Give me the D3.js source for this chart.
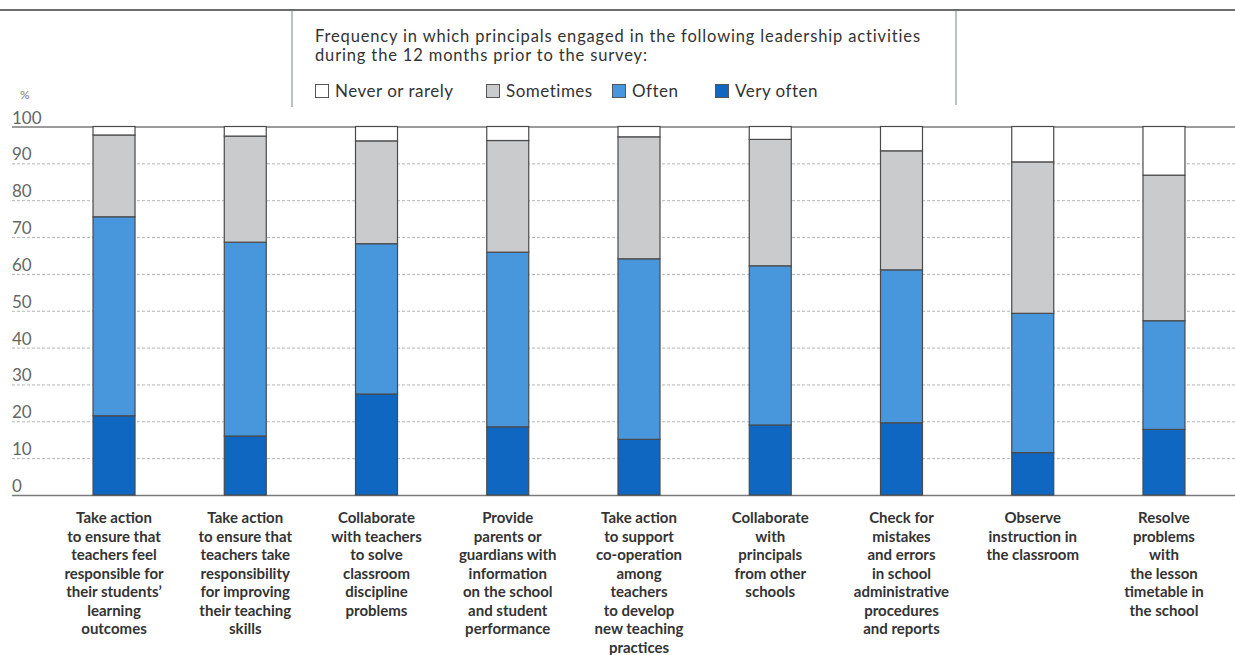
<!DOCTYPE html>
<html>
<head>
<meta charset="utf-8">
<script src="https://cdn.jsdelivr.net/npm/d3@7"></script>
<style>
  html, body { margin: 0; padding: 0; background: #fff; }
  svg { display: block; }
  text { font-family: Lato, "Open Sans", sans-serif; }
</style>
</head>
<body>
<svg id="chart" width="1235" height="655"></svg>
<script>
// ---- Data ----
const categories = [
  ["Take action", "to ensure that", "teachers feel", "responsible for", "their students\u2019", "learning", "outcomes"],
  ["Take action", "to ensure that", "teachers take", "responsibility", "for improving", "their teaching", "skills"],
  ["Collaborate", "with teachers", "to solve", "classroom", "discipline", "problems"],
  ["Provide", "parents or", "guardians with", "information", "on the school", "and student", "performance"],
  ["Take action", "to support", "co-operation", "among", "teachers", "to develop", "new teaching", "practices"],
  ["Collaborate", "with", "principals", "from other", "schools"],
  ["Check for", "mistakes", "and errors", "in school", "administrative", "procedures", "and reports"],
  ["Observe", "instruction in", "the classroom"],
  ["Resolve", "problems", "with", "the lesson", "timetable in", "the school"]
];
const seriesNames = ["Very often", "Often", "Sometimes", "Never or rarely"];
const veryOften = [21.5, 16.0, 27.4, 18.5, 15.1, 19.0, 19.6, 11.5, 17.8];
const often     = [54.0, 52.6, 40.8, 47.4, 49.0, 43.2, 41.5, 37.8, 29.5];
const sometimes = [22.2, 28.8, 27.9, 30.3, 33.1, 34.3, 32.3, 41.1, 39.5];
const never     = [2.3, 2.6, 3.9, 3.8, 2.8, 3.5, 6.6, 9.6, 13.2];
const yTicks = [0, 10, 20, 30, 40, 50, 60, 70, 80, 90, 100];
const legendTitle = ["Frequency in which principals engaged in the following leadership activities",
                     "during the 12 months prior to the survey:"];
const legendOrder = ["Never or rarely", "Sometimes", "Often", "Very often"];

const colors = {
  "Very often": "#0f67c1",
  "Often": "#4896dc",
  "Sometimes": "#c9cbcd",
  "Never or rarely": "#ffffff"
};

// ---- Build table ----
const rows = categories.map((c, i) => ({
  key: i,
  "Very often": veryOften[i],
  "Often": often[i],
  "Sometimes": sometimes[i],
  "Never or rarely": never[i]
}));
const stack = d3.stack().keys(seriesNames)(rows);

const svg = d3.select("#chart");

const x = d3.scaleBand()
  .domain(rows.map(r => r.key))
  .range([48.4, 1229.6])
  .paddingInner(0.68)
  .paddingOuter(0.34);
const y = d3.scaleLinear().domain([0, 100]).range([495, 126.5]);

// top rule
svg.append("line").attr("x1", 0).attr("x2", 1235).attr("y1", 10).attr("y2", 10)
  .attr("stroke", "#6d6d6d").attr("stroke-width", 2.2);

// legend box side lines
svg.append("line").attr("x1", 292).attr("x2", 292).attr("y1", 11).attr("y2", 107)
  .attr("stroke", "#8a9a9a").attr("stroke-width", 1.2);
svg.append("line").attr("x1", 956).attr("x2", 956).attr("y1", 11).attr("y2", 105)
  .attr("stroke", "#8a9a9a").attr("stroke-width", 1.2);

// legend title
svg.append("g").selectAll("text").data(legendTitle).join("text")
  .attr("x", 315).attr("y", (d, i) => 42 + i * 19)
  .attr("font-size", 16.5).attr("letter-spacing", 0.85).attr("fill", "#333")
  .text(d => d);

// legend items
const legendX = [315, 486, 612, 715];
const lg = svg.append("g").selectAll("g").data(legendOrder).join("g")
  .attr("transform", (d, i) => `translate(${legendX[i]},84)`);
lg.append("rect").attr("x", 0.5).attr("y", 0.5).attr("width", 13).attr("height", 13)
  .attr("fill", d => colors[d]).attr("stroke", "#555").attr("stroke-width", 1);
lg.append("text").attr("x", 20).attr("y", 13).attr("font-size", 17).attr("letter-spacing", 0.5)
  .attr("fill", "#333")
  .text(d => d);

// y axis unit
svg.append("text").attr("x", 20).attr("y", 99).attr("font-size", 12).attr("fill", "#777").text("%");

// gridlines
const yAxis = d3.axisLeft(y).tickValues(yTicks).tickSize(-(1235 - 12)).tickFormat("");
const ga = svg.append("g").attr("transform", "translate(12,0)").call(yAxis);
ga.select(".domain").remove();
ga.selectAll(".tick line")
  .attr("stroke", d => (d === 0 || d === 100) ? "#7a7a7a" : "#b5b5b5")
  .attr("stroke-width", d => (d === 0 || d === 100) ? 1.6 : 1)
  .attr("stroke-dasharray", d => (d === 0 || d === 100) ? null : "3,2");

// y tick labels (above their lines)
svg.append("g").selectAll("text").data(yTicks).join("text")
  .attr("x", 12).attr("y", d => y(d) - 3)
  .attr("font-size", 17).attr("fill", "#666")
  .text(d => d);

// bars
svg.append("g").selectAll("g").data(stack).join("g")
  .attr("fill", d => colors[d.key])
  .selectAll("rect").data(d => d).join("rect")
  .attr("x", d => x(d.data.key))
  .attr("y", d => y(d[1]))
  .attr("width", x.bandwidth())
  .attr("height", d => y(d[0]) - y(d[1]))
  .attr("stroke", "#4a4a4a").attr("stroke-width", 1.2);

// category labels
const cl = svg.append("g").selectAll("text").data(categories).join("text")
  .attr("x", (d, i) => x(i) + x.bandwidth() / 2)
  .attr("y", 523)
  .attr("text-anchor", "middle")
  .attr("font-size", 15).attr("font-weight", 700).attr("fill", "#333");
cl.selectAll("tspan").data(d => d).join("tspan")
  .attr("x", function() { return d3.select(this.parentNode).attr("x"); })
  .attr("dy", (d, i) => i === 0 ? 0 : 18.5)
  .text(d => d);
</script>
</body>
</html>
